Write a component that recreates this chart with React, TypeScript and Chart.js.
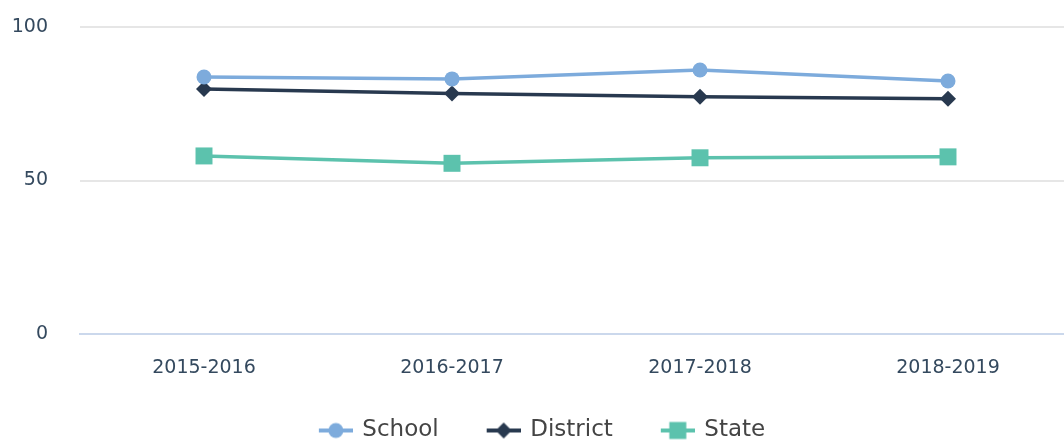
import React, { useEffect, useRef } from "react";
import { Chart, registerables } from "chart.js";

Chart.register(...registerables);

const categories = ["2015-2016", "2016-2017", "2017-2018", "2018-2019"];
const schoolValues = [83.7, 83.1, 86.0, 82.4];
const districtValues = [79.8, 78.3, 77.3, 76.6];
const stateValues = [58.0, 55.6, 57.4, 57.7];
const yTicks = [0, 50, 100];

const SCHOOL = "#7dabdc";
const DISTRICT = "#28394f";
const STATE = "#5cc2ad";
const TEXT = "#34495e";
const LEGEND_TEXT = "#444444";
const FONT = "'DejaVu Sans', sans-serif";

const CANVAS_W = 1072;
const CANVAS_H = 452;

// legend icon: transparent gap on the left (item spacing), then line + marker
function legendIcon(color: string, style: string): HTMLCanvasElement {
  const c = document.createElement("canvas");
  c.width = 74;
  c.height = 20;
  const ctx = c.getContext("2d")!;
  const ox = 40;
  ctx.strokeStyle = color;
  ctx.lineWidth = 4;
  ctx.beginPath();
  ctx.moveTo(ox, 10);
  ctx.lineTo(ox + 34, 10);
  ctx.stroke();
  ctx.fillStyle = color;
  ctx.beginPath();
  if (style === "circle") {
    ctx.arc(ox + 17, 10, 7.5, 0, Math.PI * 2);
  } else if (style === "rectRot") {
    ctx.moveTo(ox + 17, 2);
    ctx.lineTo(ox + 25, 10);
    ctx.lineTo(ox + 17, 18);
    ctx.lineTo(ox + 9, 10);
    ctx.closePath();
  } else {
    ctx.rect(ox + 8.5, 1.5, 17, 17);
  }
  ctx.fill();
  return c;
}

export default function App() {
  const ref = useRef<HTMLCanvasElement>(null);
  useEffect(() => {
    const series = [
      { label: "School", data: schoolValues, color: SCHOOL, style: "circle", radius: 7.5 },
      { label: "District", data: districtValues, color: DISTRICT, style: "rectRot", radius: 8 },
      { label: "State", data: stateValues, color: STATE, style: "rect", radius: 12 },
    ];
    const chart = new Chart(ref.current!, {
      type: "line",
      data: {
        labels: categories,
        datasets: series.map((s) => ({
          label: s.label,
          data: s.data,
          borderColor: s.color,
          backgroundColor: s.color,
          pointBackgroundColor: s.color,
          pointBorderColor: s.color,
          pointBorderWidth: 0,
          pointStyle: s.style as any,
          pointRadius: s.radius,
          borderWidth: 3.5,
          tension: 0,
          clip: false as any,
        })),
      },
      options: {
        responsive: false,
        animation: false,
        layout: { autoPadding: false, padding: { top: 27, right: 0, left: -26, bottom: 0 } },
        plugins: {
          tooltip: { enabled: false },
          legend: {
            position: "bottom",
            labels: {
              usePointStyle: true,
              pointStyleWidth: 70,
              font: { family: FONT, size: 23 },
              color: LEGEND_TEXT,
              padding: 10,
              generateLabels: () =>
                series.map((s, i) => ({
                  text: s.label,
                  fillStyle: s.color,
                  strokeStyle: s.color,
                  lineWidth: 0,
                  hidden: false,
                  datasetIndex: i,
                  pointStyle: legendIcon(s.color, s.style),
                  fontColor: LEGEND_TEXT,
                })),
            },
          },
        },
        scales: {
          x: {
            offset: true,
            afterFit: (scale: any) => {
              scale.height = 75;
              scale.paddingLeft = 0;
              scale.paddingRight = 0;
            },
            grid: { display: false, drawTicks: false },
            border: { color: "#cbd8ec", width: 2 },
            ticks: { color: TEXT, font: { family: FONT, size: 19 }, padding: 23 },
          },
          y: {
            min: 0,
            max: 100,
            afterFit: (scale: any) => {
              scale.width = 106;
              scale.paddingTop = 0;
              scale.paddingBottom = 0;
            },
            afterBuildTicks: (scale: any) => {
              scale.ticks = yTicks.map((v) => ({ value: v }));
            },
            grid: { color: "#e6e6e6", lineWidth: 2, drawTicks: false },
            border: { display: false },
            ticks: { color: TEXT, font: { family: FONT, size: 19 }, padding: 32 },
          },
        },
      },
    });
    return () => chart.destroy();
  }, []);
  return (
    <div style={{ position: "fixed", left: 0, top: 0, width: 1064, height: 444, overflow: "hidden", background: "#fff" }}>
      <canvas ref={ref} width={CANVAS_W} height={CANVAS_H} style={{ width: CANVAS_W, height: CANVAS_H, display: "block" }} />
    </div>
  );
}
